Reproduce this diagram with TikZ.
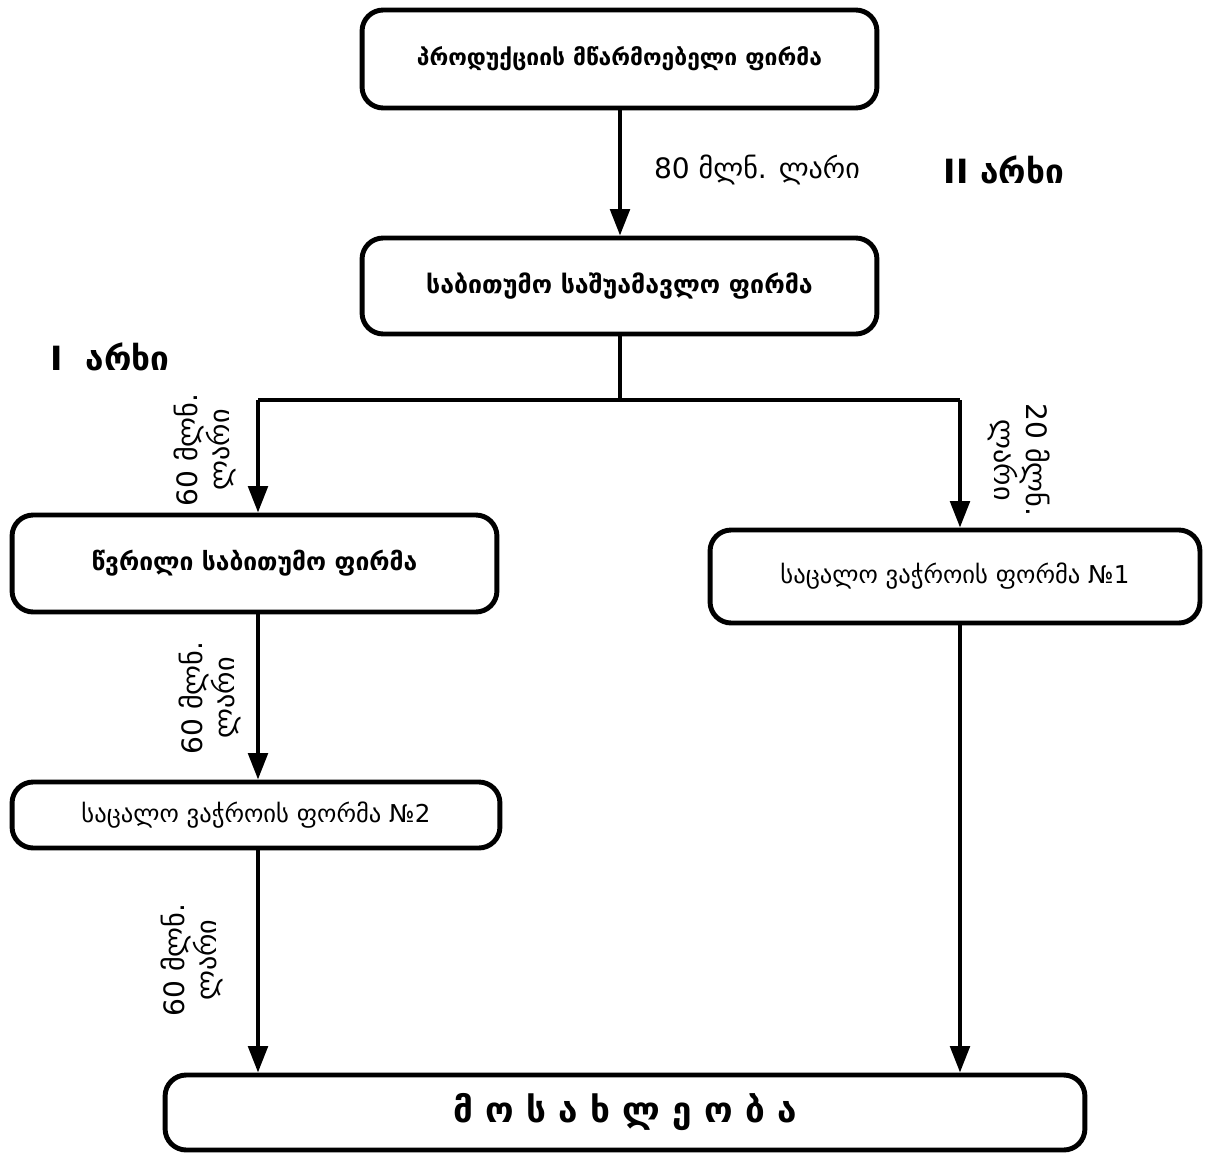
\documentclass[tikz,border=0pt]{standalone}
\usepackage{fontspec}
\setmainfont{DejaVu Sans}
\usepackage{tikz}
\usetikzlibrary{arrows.meta,positioning,calc,shapes}

\tikzset{
	firm/.style={draw, line width=2.8pt, rounded corners=12pt, align=center, font=\fontsize{13}{15}\selectfont},
	flow/.style={line width=2.3pt, -{Triangle[width=11pt,length=15pt]}},
	link/.style={line width=2.3pt},
	sum/.style={font=\fontsize{16}{17}\selectfont, align=center},
	channel/.style={font=\bfseries\fontsize{19}{21}\selectfont}
}

\begin{document}
\begin{tikzpicture}[x=0.02cm, y=-0.02cm]
	\useasboundingbox (0,0) rectangle (1208,1156);

	\node[firm, minimum width=10.3cm, minimum height=1.96cm] (producer) at (619.5,59) {\bfseries პროდუქციის მწარმოებელი ფირმა};
	\node[firm, minimum width=10.3cm, minimum height=1.92cm, font=\fontsize{14.2}{16}\selectfont] (wholesale) at (619.5,286) {\bfseries საბითუმო საშუამავლო ფირმა};
	\node[firm, minimum width=9.7cm, minimum height=1.94cm, font=\fontsize{14}{16}\selectfont] (smallwh) at (254.5,563.5) {\bfseries წვრილი საბითუმო ფირმა};
	\node[firm, minimum width=9.8cm, minimum height=1.86cm, font=\fontsize{14}{16}\selectfont] (retailA) at (955,576.5) {საცალო ვაჭროის ფორმა №1};
	\node[firm, minimum width=9.76cm, minimum height=1.32cm, font=\fontsize{14}{16}\selectfont] (retailB) at (256,815) {საცალო ვაჭროის ფორმა №2};
	\node[firm, minimum width=18.4cm, minimum height=1.5cm, font=\bfseries\fontsize{20}{22}\selectfont] (people) at (625,1112.5) {მ ო ს ა ხ ლ ე ო ბ ა};

	\coordinate (split) at (620,400);
	\coordinate (splitL) at (258,400);
	\coordinate (splitR) at (960,400);

	\draw[flow] (producer.south -| split) -- (wholesale.north -| split);
	\draw[link] (wholesale.south -| split) -- (split);
	\draw[link] (splitL) -- (splitR);
	\draw[flow] (splitL) -- (splitL |- smallwh.north);
	\draw[flow] (splitR) -- (splitR |- retailA.north);
	\draw[flow] (smallwh.south -| splitL) -- (retailB.north -| splitL);
	\draw[flow] (retailB.south -| splitL) -- (people.north -| splitL);
	\draw[flow] (retailA.south -| splitR) -- (people.north -| splitR);

	% sums of money
	\node[sum] (s80) at (757,170) {80 მლნ. ლარი};
	\node[sum, rotate=90] (s60a) at (205,450) {60 მლნ.\\ლარი};
	\node[sum, rotate=-90] (s20) at (1019,460) {20 მლნ.\\ლარი};
	\node[sum, rotate=90] (s60b) at (210,698) {60 მლნ.\\ლარი};
	\node[sum, rotate=90] (s60c) at (192,960) {60 მლნ.\\ლარი};

	% channels
	\node[channel] (ch2) at (1004,170) {II არხი};
	\node[channel] (ch1) at (110,357) {I\hspace{0.7em}არხი};
\end{tikzpicture}
\end{document}
